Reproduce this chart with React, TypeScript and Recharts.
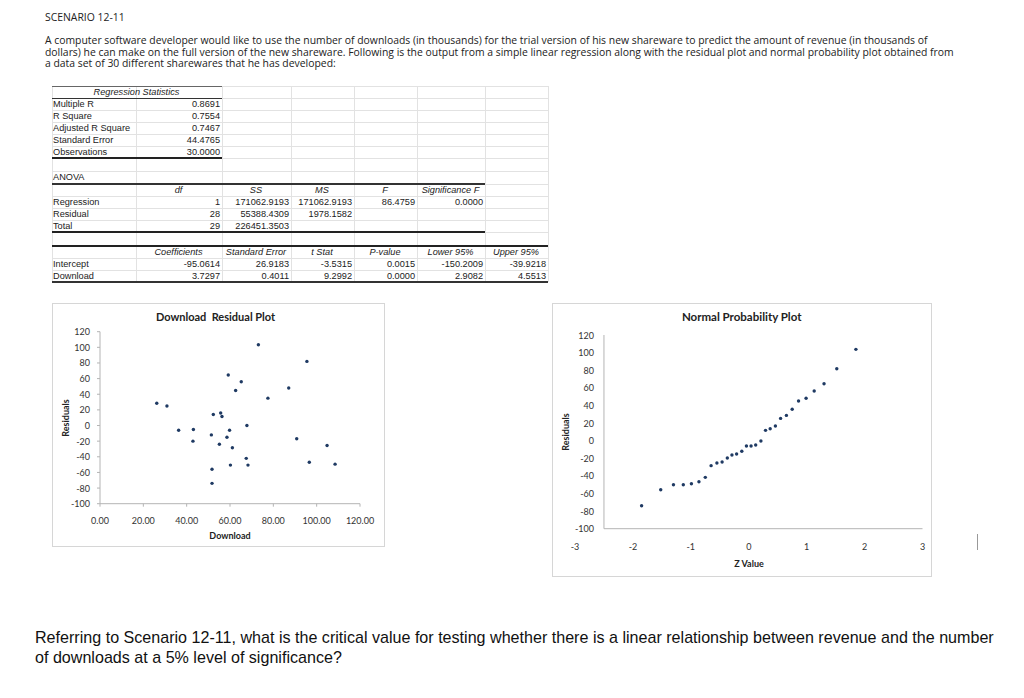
import React from 'react';
import { ScatterChart, Scatter, XAxis, YAxis, ReferenceLine } from 'recharts';

// residual plot: download (thousands) vs residual
const residualDownloads = [26.2, 30.9, 36.3, 43.1, 42.9, 51.4, 52.3, 55.7, 56.3, 55.1, 58.6, 59.8, 59.2, 61.1, 60.2, 51.7, 51.7, 62.6, 65.2, 67.8, 67.5, 68.3, 73.1, 77.5, 87.1, 90.8, 95.5, 96.6, 104.8, 108.5];
const residualValues = [28.5, 25, -6, -5, -20, -12, 14, 16, 11.5, -24, -15, -6, 64.7, -28.5, -50.6, -56, -74, 44.7, 56, 0, -42, -50.6, 103.4, 35, 48, -17, 82, -47, -25.5, -49.4];

// normal probability plot: z value vs ordered residual
const zValues = [-1.85, -1.52, -1.3, -1.13, -0.99, -0.86, -0.75, -0.65, -0.55, -0.46, -0.37, -0.29, -0.21, -0.12, -0.04, 0.04, 0.12, 0.21, 0.29, 0.37, 0.46, 0.55, 0.65, 0.75, 0.86, 0.99, 1.13, 1.3, 1.52, 1.85];
const orderedResiduals = [-73.9, -55.7, -50, -50, -48.9, -46.6, -41.7, -28.4, -25.4, -24.3, -19.7, -16.3, -15.2, -12.1, -6.1, -6.1, -4.9, -0.4, 11.7, 13.6, 16.6, 25.3, 28.7, 35.6, 45, 48.1, 56.4, 64.7, 81.7, 103.7];

const downloadTicks = [0, 20, 40, 60, 80, 100, 120];
const residualTicks = [-100, -80, -60, -40, -20, 0, 20, 40, 60, 80, 100, 120];
const zTicks = [-3, -2, -1, 0, 1, 2, 3];

// regression output table
const regStatsLabels = ['Multiple R', 'R Square', 'Adjusted R Square', 'Standard Error', 'Observations'];
const regStatsValues = ['0.8691', '0.7554', '0.7467', '44.4765', '30.0000'];
const anovaHeaders = ['df', 'SS', 'MS', 'F', 'Significance F'];
const anovaLabels = ['Regression', 'Residual', 'Total'];
const anovaValues = [
  ['1', '171062.9193', '171062.9193', '86.4759', '0.0000'],
  ['28', '55388.4309', '1978.1582'],
  ['29', '226451.3503'],
];
const coefHeaders = ['Coefficients', 'Standard Error', 't Stat', 'P-value', 'Lower 95%', 'Upper 95%'];
const coefLabels = ['Intercept', 'Download'];
const coefValues = [
  ['-95.0614', '26.9183', '-3.5315', '0.0015', '-150.2009', '-39.9218'],
  ['3.7297', '0.4011', '9.2992', '0.0000', '2.9082', '4.5513'],
];

const colEdges = [52, 136, 222, 291, 354, 417, 485, 548];
const rowEdges = [86, 98, 110, 122, 134, 146, 158, 171, 184, 196, 208, 220, 232, 246, 258, 270, 282];

const residualData = residualDownloads.map((x, i) => ({ x, y: residualValues[i] }));
const normalData = zValues.map((x, i) => ({ x, y: orderedResiduals[i] }));

const chartFont = 'Lato, "DejaVu Sans", sans-serif';
const dotColor = '#1f3a63';
const axisColor = '#b4b4b4';

const Dot = (p: any) => <circle cx={p.cx} cy={p.cy} r={1.7} fill={dotColor} />;

const Cell = ({ c0, c1, r, text, align, italic }: any) => (
  <div
    style={{
      position: 'absolute',
      left: colEdges[c0] + 1,
      width: colEdges[c1] - colEdges[c0] - 3,
      top: rowEdges[r],
      height: rowEdges[r + 1] - rowEdges[r],
      lineHeight: rowEdges[r + 1] - rowEdges[r] + 'px',
      textAlign: align,
      fontStyle: italic ? 'italic' : 'normal',
      whiteSpace: 'nowrap',
    }}
  >
    {text}
  </div>
);

const HLine = ({ y, x0, x1, w, color }: any) => (
  <div style={{ position: 'absolute', left: x0, width: x1 - x0, top: y - w / 2, height: w, background: color }} />
);

const RegressionTable = () => {
  const cells: any[] = [];
  cells.push(<Cell key="rsh" c0={0} c1={2} r={0} text="Regression Statistics" align="center" italic />);
  regStatsLabels.forEach((l, i) => {
    cells.push(<Cell key={'rl' + i} c0={0} c1={1} r={i + 1} text={l} align="left" />);
    cells.push(<Cell key={'rv' + i} c0={1} c1={2} r={i + 1} text={regStatsValues[i]} align="right" />);
  });
  cells.push(<Cell key="anova" c0={0} c1={1} r={7} text="ANOVA" align="left" />);
  anovaHeaders.forEach((h, i) => cells.push(<Cell key={'ah' + i} c0={i + 1} c1={i + 2} r={8} text={h} align="center" italic />));
  anovaLabels.forEach((l, i) => {
    cells.push(<Cell key={'al' + i} c0={0} c1={1} r={9 + i} text={l} align="left" />);
    anovaValues[i].forEach((v, j) => cells.push(<Cell key={'av' + i + j} c0={j + 1} c1={j + 2} r={9 + i} text={v} align="right" />));
  });
  coefHeaders.forEach((h, i) => cells.push(<Cell key={'ch' + i} c0={i + 1} c1={i + 2} r={13} text={h} align="center" italic />));
  coefLabels.forEach((l, i) => {
    cells.push(<Cell key={'cl' + i} c0={0} c1={1} r={14 + i} text={l} align="left" />);
    coefValues[i].forEach((v, j) => cells.push(<Cell key={'cv' + i + j} c0={j + 1} c1={j + 2} r={14 + i} text={v} align="right" />));
  });
  return (
    <div style={{ position: 'absolute', left: 0, top: 0, fontFamily: '"Liberation Sans", Arial, sans-serif', fontSize: 9.2, color: '#222' }}>
      {colEdges.map((x) => (
        <div key={'gv' + x} style={{ position: 'absolute', left: x, top: rowEdges[0], width: 1, height: rowEdges[rowEdges.length - 1] - rowEdges[0], background: '#e2e2e2' }} />
      ))}
      {rowEdges.map((y) => (
        <HLine key={'gh' + y} y={y} x0={colEdges[0]} x1={colEdges[7]} w={1} color="#e2e2e2" />
      ))}
      <HLine y={86} x0={52} x1={222} w={1} color="#666" />
      <HLine y={98} x0={52} x1={222} w={1} color="#333" />
      <HLine y={158} x0={52} x1={222} w={2} color="#222" />
      <HLine y={184} x0={52} x1={485} w={1.5} color="#333" />
      <HLine y={232} x0={52} x1={485} w={2} color="#222" />
      <HLine y={246} x0={52} x1={548} w={2} color="#222" />
      <HLine y={282} x0={52} x1={548} w={1.5} color="#333" />
      {cells}
    </div>
  );
};

const tickText = (dx: number, dy: number, anchor: string, fmt: (v: number) => string) => (p: any) => (
  <text x={p.x + dx} y={p.y + dy} textAnchor={anchor} dominantBaseline="central" fontSize={9} fill="#333" fontFamily={chartFont}>
    {fmt(p.payload.value)}
  </text>
);

const ResidualPlot = () => (
  <div style={{ position: 'absolute', left: 52, top: 303, width: 333, height: 244 }}>
    <ScatterChart width={333} height={244} margin={{ top: 28.7, right: 25, bottom: 0, left: 0 }}>
      <XAxis
        type="number"
        dataKey="x"
        domain={[0, 120]}
        ticks={downloadTicks}
        interval={0}
        allowDataOverflow
        height={43.3}
        stroke={axisColor}
        tickSize={3}
        tickMargin={0}
        tick={tickText(0, 14, 'middle', (v) => v.toFixed(2))}
      />
      <YAxis
        type="number"
        dataKey="y"
        domain={[-100, 120]}
        ticks={residualTicks}
        interval={0}
        allowDataOverflow
        width={48}
        stroke={axisColor}
        tickSize={3}
        tickMargin={0}
        tick={tickText(-7, 0, 'end', (v) => String(v))}
      />
      <Scatter data={residualData} fill={dotColor} shape={Dot} isAnimationActive={false} />
    </ScatterChart>
    <div style={{ position: 'absolute', left: 0, top: 0, width: 333, height: 244, boxSizing: 'border-box', border: '1px solid #d6d6d6' }} />
  </div>
);

const NormalPlot = () => (
  <div style={{ position: 'absolute', left: 552, top: 303, width: 380, height: 274 }}>
    <ScatterChart width={380} height={274} margin={{ top: 32, right: 9.5, bottom: 0, left: 0 }}>
      <XAxis
        type="number"
        dataKey="x"
        domain={[-3, 3]}
        ticks={zTicks}
        interval={0}
        allowDataOverflow
        height={48.3}
        axisLine={false}
        tickLine={false}
        tickSize={0}
        tickMargin={0}
        tick={tickText(0, 18, 'middle', (v) => String(v))}
      />
      <YAxis
        type="number"
        dataKey="y"
        domain={[-100, 120]}
        ticks={residualTicks}
        interval={0}
        allowDataOverflow
        width={23}
        axisLine={false}
        tickLine={false}
        tickSize={0}
        tickMargin={0}
        tick={tickText(19, 0, 'end', (v) => String(v))}
      />
      <ReferenceLine segment={[{ x: -2.5, y: -100 }, { x: -2.5, y: 120 }]} stroke={axisColor} />
      <ReferenceLine segment={[{ x: -2.5, y: -100 }, { x: 3, y: -100 }]} stroke={axisColor} />
      <Scatter data={normalData} fill={dotColor} shape={Dot} isAnimationActive={false} />
    </ScatterChart>
    <div style={{ position: 'absolute', left: 0, top: 0, width: 380, height: 274, boxSizing: 'border-box', border: '1px solid #d6d6d6' }} />
  </div>
);

const Label = ({ x, y, text, size, rotate }: any) => (
  <div
    style={{
      position: 'absolute',
      left: x,
      top: y,
      transform: `translate(-50%, -50%)${rotate ? ' rotate(-90deg)' : ''}`,
      fontFamily: chartFont,
      fontWeight: 'bold',
      fontSize: size,
      color: '#222',
      whiteSpace: 'pre',
      lineHeight: 1,
    }}
  >
    {text}
  </div>
);

export default function App() {
  return (
    <div style={{ position: 'absolute', left: 0, top: 0, width: 1024, height: 698, background: '#fff', overflow: 'hidden' }}>
      <div style={{ position: 'absolute', left: 45, top: 10, fontFamily: '"Open Sans", sans-serif', fontSize: 10.4, color: '#222', whiteSpace: 'nowrap' }}>
        SCENARIO 12-11
      </div>
      <div style={{ position: 'absolute', left: 45, top: 35, fontFamily: '"Open Sans", sans-serif', fontSize: 10.4, lineHeight: '11.5px', color: '#222', whiteSpace: 'nowrap' }}>
        A computer software developer would like to use the number of downloads (in thousands) for the trial version of his new shareware to predict the amount of revenue (in thousands of
        <br />
        dollars) he can make on the full version of the new shareware. Following is the output from a simple linear regression along with the residual plot and normal probability plot obtained from
        <br />
        a data set of 30 different sharewares that he has developed:
      </div>
      <RegressionTable />
      <ResidualPlot />
      <NormalPlot />
      <Label x={215.5} y={315.7} text="Download  Residual Plot" size={11} />
      <Label x={65} y={418} text="Residuals" size={9} rotate />
      <Label x={230} y={535} text="Download" size={9} />
      <Label x={741.7} y={317.3} text="Normal Probability Plot" size={11.5} />
      <Label x={565} y={432} text="Residuals" size={9} rotate />
      <Label x={749} y={563.3} text="Z Value" size={9} />
      <div style={{ position: 'absolute', left: 977, top: 534, width: 1, height: 16, background: '#999' }} />
      <div style={{ position: 'absolute', left: 35, top: 628, fontFamily: '"Liberation Sans", Arial, sans-serif', fontSize: 16.1, lineHeight: '19.6px', color: '#111', whiteSpace: 'nowrap' }}>
        Referring to Scenario 12-11, what is the critical value for testing whether there is a linear relationship between revenue and the number
        <br />
        of downloads at a 5% level of significance?
      </div>
    </div>
  );
}
